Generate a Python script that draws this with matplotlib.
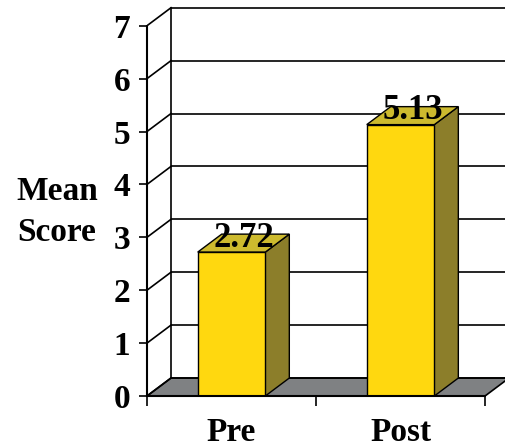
import numpy as np
import matplotlib.pyplot as plt
from matplotlib.patches import Polygon

plt.rcParams['font.family'] = ['Liberation Serif', 'DejaVu Serif']
plt.rcParams['font.weight'] = 'bold'

# data
categories = ['Pre', 'Post']
scores = [2.72, 5.13]
y_ticks = [0, 1, 2, 3, 4, 5, 6, 7]

# 3D look settings (data units)
DX, DY = 0.142, 0.34          # depth offset of the back wall
BAR_W = 0.40
FRONT = '#FFD80F'
SIDE = '#8C7E2A'
TOP = '#CDBA2E'
FLOOR = '#7F8183'

fig = plt.figure(figsize=(5.06, 4.47), dpi=100)
ax = fig.add_axes([147 / 506, 51 / 447, 359 / 506, 396 / 447])
n = len(categories)
ax.set_xlim(0, 2.124)
ax.set_ylim(0, 7.486)

# floor
ax.add_patch(Polygon([(0, 0), (n, 0), (n + DX, DY), (DX, DY)], closed=True,
                     facecolor=FLOOR, edgecolor='black', lw=1.2, zorder=1))

# back wall gridlines + left wall diagonals
for t in y_ticks:
    ax.plot([DX, n + DX], [t + DY, t + DY], color='black', lw=1.2, zorder=2,
            solid_capstyle='butt')
    ax.plot([0, DX], [t, t + DY], color='black', lw=1.2, zorder=2)
ax.plot([DX, DX], [DY, y_ticks[-1] + DY], color='black', lw=1.2, zorder=2)

# bars
x = np.arange(n) + 0.5
for xi, v in zip(x, scores):
    l, r = xi - BAR_W / 2, xi + BAR_W / 2
    ax.add_patch(Polygon([(r, 0), (r + DX, DY), (r + DX, v + DY), (r, v)],
                         facecolor=SIDE, edgecolor='black', lw=1, zorder=3))
    ax.add_patch(Polygon([(l, v), (r, v), (r + DX, v + DY), (l + DX, v + DY)],
                         facecolor=TOP, edgecolor='black', lw=1, zorder=3))
    ax.add_patch(Polygon([(l, 0), (r, 0), (r, v), (l, v)],
                         facecolor=FRONT, edgecolor='black', lw=1, zorder=4))
    ax.text(xi + DX / 2, v + 0.1, f'{v:.2f}', ha='center', va='baseline',
            fontsize=25, fontweight='bold', zorder=5)

# axes
for s in ['top', 'right']:
    ax.spines[s].set_visible(False)
ax.spines['left'].set_bounds(0, y_ticks[-1])
ax.spines['bottom'].set_bounds(0, n)
for s in ['left', 'bottom']:
    ax.spines[s].set_linewidth(1.5)
    ax.spines[s].set_zorder(6)

ax.set_yticks(y_ticks)
ax.set_yticklabels([str(t) for t in y_ticks], fontsize=24, fontweight='bold')
ax.tick_params(axis='y', length=6, width=1.2, pad=6)

ax.set_xticks(np.arange(n + 1))
ax.set_xticklabels([])
ax.set_xticks(x, minor=True)
ax.set_xticklabels(categories, minor=True, fontsize=24, fontweight='bold')
ax.tick_params(axis='x', which='major', length=7, width=1.2)
ax.tick_params(axis='x', which='minor', length=0, pad=15)

fig.text(57 / 506, 1 - 212 / 447, 'Mean\nScore', ha='center', va='center',
         fontsize=24, fontweight='bold', linespacing=1.45)

fig.savefig('out.png', dpi=100)
